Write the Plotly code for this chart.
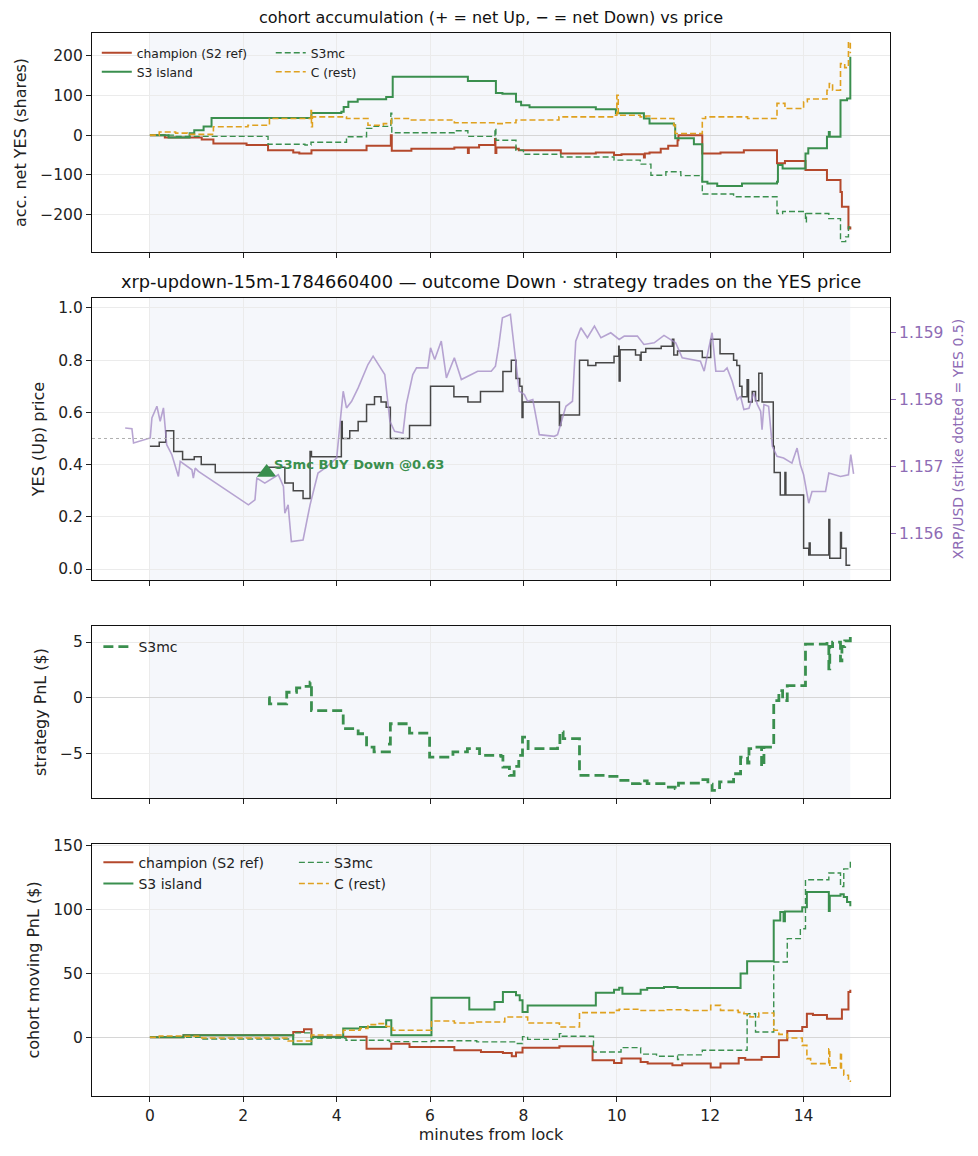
import plotly.graph_objects as go

# ---- panel 1: cohort accumulation (net YES shares) ----
t_champ_acc = [0, 0.32, 1.11, 1.36, 2.07, 2.53, 3.07, 3.2, 3.46, 4.64, 5.16, 5.18, 5.6, 6.52, 6.81, 6.83,
               7.05, 7.39, 7.40, 7.42, 7.84, 7.9, 8.8, 9.55, 9.94, 10.1, 10.58, 10.6, 10.7, 10.94, 11.1,
               11.3, 11.32, 11.83, 12.22, 12.72, 13.43, 13.6, 14.04, 14.5, 14.79, 14.82, 14.96, 15.0]
champ_acc = [0, -6, -11, -21, -25, -38, -44, -46, -38, -27, 0, -39, -34, -31, -45, -31,
             -25, -10, -45, -31, -34, -38, -46, -44, -50, -48, -56, -46, -44, -34, -27,
             -13, 0, -46, -44, -38, -71, -65, -88, -113, -143, -180, -235, -230]

t_s3i_acc = [0, 0.4, 0.85, 0.95, 1.15, 1.32, 3.46, 4.1, 4.15, 4.25, 4.45, 5.06, 5.2, 6.81, 7.41, 7.55,
             7.84, 7.95, 8.13, 9.55, 9.98, 10.58, 10.7, 11.22, 11.25, 11.65, 11.83, 11.94, 12.15, 12.68,
             13.43, 13.45, 13.55, 14.04, 14.1, 14.5, 14.54, 14.56, 14.79, 14.93, 15.0]
s3i_acc = [0, -6, 5, 12, 22, 43, 56, 59, 71, 84, 90, 96, 147, 136, 106, 104,
           84, 75, 70, 65, 55, 42, 29, 25, -8, -23, -117, -122, -128, -122,
           -117, -75, -84, -46, -33, -4, 8, -4, 88, 92, 197]

t_s3mc_acc = [0, 0.5, 2.53, 3.32, 3.45, 4.21, 4.64, 4.75, 5.16, 5.18, 6.52, 6.81, 7.39, 7.41, 7.84, 8.0,
              8.8, 9.94, 10.5, 10.73, 11.05, 11.37, 11.83, 12.5, 13.43, 13.55, 14.04, 14.06, 14.54,
              14.79, 14.9, 14.96, 15.0]
s3mc_acc = [0, -3, -23, -25, -18, -4, 17, 22, 55, 6, 11, -3, 17, -13, -38, -48,
            -55, -63, -73, -101, -92, -102, -148, -155, -197, -192, -218, -197, -210,
            -268, -256, -231, -231]

t_c_acc = [0, 0.2, 0.55, 0.8, 1.36, 2.1, 2.56, 3.45, 3.46, 3.48, 4.21, 4.67, 5.0, 5.17, 5.6, 6.52, 7.41,
           7.6, 7.84, 8.76, 9.94, 10.0, 10.03, 10.5, 10.62, 10.73, 11.22, 11.25, 11.83, 11.9, 12.8,
           13.43, 13.6, 14.0, 14.08, 14.5, 14.55, 14.62, 14.79, 14.88, 14.96, 15.0]
c_acc = [0, 8, 5, 2, 21, 25, 42, 62, 21, 46, 42, 25, 29, 42, 38, 31, 29,
         31, 38, 46, 50, 100, 50, 46, 48, 42, 25, 4, 42, 46, 42,
         80, 67, 84, 91, 113, 130, 113, 180, 170, 235, 206]

# ---- panel 2: YES price (step) and XRP/USD ----
t_yes = [0, 0.2, 0.34, 0.51, 0.70, 0.95, 1.10, 1.40, 2.5, 2.89, 3.07, 3.28, 3.43, 3.46, 4.10, 4.12,
         4.28, 4.46, 4.64, 4.81, 4.95, 5.06, 5.15, 5.56, 6.01, 6.51, 6.81, 7.08, 7.56, 7.74, 7.84,
         7.92, 7.97, 7.99, 8.77, 8.80, 9.2, 9.38, 9.55, 9.94, 10.04, 10.05, 10.07, 10.4, 10.5, 10.52,
         10.62, 10.95, 11.19, 11.22, 11.3, 11.83, 12.01, 12.21, 12.5, 12.57, 12.63, 12.68, 12.79,
         12.82, 12.9, 12.97, 13.04, 13.11, 13.35, 13.37, 13.5, 13.6, 13.62, 14.0, 14.11, 14.12,
         14.14, 14.54, 14.56, 14.79, 14.81, 14.91, 15.0]
yes_price = [0.47, 0.486, 0.53, 0.45, 0.42, 0.43, 0.40, 0.37, 0.39, 0.33, 0.30, 0.27, 0.45, 0.43, 0.565, 0.50,
             0.53, 0.565, 0.63, 0.66, 0.64, 0.62, 0.50, 0.55, 0.70, 0.66, 0.64, 0.68, 0.757, 0.80, 0.73,
             0.70, 0.58, 0.64, 0.55, 0.59, 0.80, 0.78, 0.79, 0.815, 0.853, 0.72, 0.84, 0.82, 0.80, 0.83,
             0.845, 0.853, 0.88, 0.82, 0.835, 0.81, 0.88, 0.825, 0.80, 0.78, 0.70, 0.66, 0.725,
             0.64, 0.68, 0.645, 0.75, 0.64, 0.47, 0.37, 0.284, 0.37, 0.284, 0.08, 0.054, 0.10,
             0.054, 0.19, 0.041, 0.14, 0.08, 0.015, 0.015]

t_xrp = [-0.53, -0.385, -0.35, 0.007, 0.043, 0.15, 0.22, 0.29, 0.36, 0.47, 0.61, 0.65, 0.90, 0.93, 0.97,
         1.04, 2.11, 2.25, 2.29, 2.46, 2.75, 2.86, 2.89, 2.96, 3.03, 3.28, 3.43, 3.60, 3.75, 4.0, 4.09,
         4.14, 4.21, 4.32, 4.46, 4.67, 4.78, 4.85, 5.03, 5.14, 5.24, 5.42, 5.49, 5.63, 5.71, 5.95, 6.01,
         6.10, 6.24, 6.35, 6.52, 6.67, 7.02, 7.31, 7.40, 7.47, 7.55, 7.72, 7.81, 7.91, 8.02, 8.09, 8.20,
         8.34, 8.66, 8.73, 8.91, 9.05, 9.12, 9.23, 9.37, 9.52, 9.66, 9.87, 10.05, 10.16, 10.44, 10.58,
         10.80, 11.01, 11.26, 11.40, 11.79, 11.87, 11.97, 12.04, 12.12, 12.29, 12.36, 12.47, 12.58,
         12.65, 12.72, 12.83, 12.93, 13.01, 13.08, 13.11, 13.15, 13.25, 13.33, 13.43, 13.57, 13.75,
         13.86, 13.93, 14.0, 14.11, 14.18, 14.47, 14.54, 14.79, 14.96, 15.01, 15.07]
xrp_usd = [1.157575, 1.157565, 1.15735, 1.157425, 1.157725, 1.1579, 1.157675, 1.157875, 1.157325, 1.157175,
           1.15685, 1.157075, 1.15695, 1.156825, 1.156975, 1.156925, 1.156425, 1.1565, 1.156825, 1.15675,
           1.156875, 1.1567, 1.1563, 1.156425, 1.155875, 1.1559, 1.156425, 1.1569, 1.156975, 1.157125,
           1.157775, 1.158125, 1.157875, 1.157975, 1.158175, 1.158525, 1.15865, 1.158575, 1.158375,
           1.157675, 1.157525, 1.1575, 1.157925, 1.158375, 1.158475, 1.158475, 1.158775, 1.1586,
           1.158875, 1.158325, 1.158625, 1.1583, 1.158425, 1.158425, 1.1585, 1.1588, 1.159225, 1.159275,
           1.158725, 1.158125, 1.158075, 1.157975, 1.158, 1.157475, 1.15745, 1.157475, 1.1579, 1.157975,
           1.158875, 1.159075, 1.158925, 1.1591, 1.158925, 1.159, 1.1589, 1.15895, 1.15895, 1.158825,
           1.15885, 1.15896, 1.15885, 1.158625, 1.158575, 1.158425, 1.158775, 1.159, 1.158425, 1.158425,
           1.158475, 1.158275, 1.158, 1.15805, 1.15785, 1.15787, 1.1581, 1.157925, 1.157825, 1.15755,
           1.157925, 1.1579, 1.1573, 1.15715, 1.157125, 1.15705, 1.157275, 1.157025, 1.156875, 1.15645,
           1.156625, 1.156625, 1.1569, 1.15685, 1.156875, 1.157175, 1.15689]

trade_t = [2.5]
trade_price = [0.37]
trade_label = ["S3mc BUY Down @0.63"]

# ---- panel 3: strategy PnL ----
t_strat = [2.54, 2.56, 2.93, 3.14, 3.3, 3.43, 3.46, 4.14, 4.46, 4.64, 4.8, 5.13, 5.15, 5.56, 5.99, 6.49,
           6.8, 7.06, 7.52, 7.56, 7.7, 7.8, 7.9, 7.98, 8.1, 8.73, 8.78, 8.85, 9.2, 9.8, 10.05, 10.3,
           10.5, 10.65, 11.01, 11.25, 11.32, 11.51, 11.8, 11.95, 12.04, 12.2, 12.5, 12.65, 12.8, 12.83,
           13.0, 13.1, 13.15, 13.36, 13.47, 13.55, 13.65, 14.04, 14.5, 14.54, 14.56, 14.62, 14.79,
           14.82, 14.88, 15.0]
strat_pnl = [0, -0.57, 0.48, 0.87, 1.0, 1.38, -1.17, -2.8, -3.26, -4.46, -4.9, -4.2, -2.36, -3.2, -5.36, -4.9,
             -4.6, -5.2, -5.3, -6.26, -7.0, -6.2, -5.2, -3.56, -4.6, -4.3, -3.1, -3.7, -7.0, -7.1, -7.46, -7.76,
             -7.5, -7.76, -8.06, -8.2, -7.7, -7.7, -7.4, -7.8, -8.36, -7.6, -6.86, -5.36, -5.9, -4.6,
             -4.46, -6.2, -4.46, -0.27, 0.63, -0.27, 1.08, 4.82, 5.0, 2.58, 4.6, 5.0, 3.3,
             4.6, 5.1, 5.57]

# ---- panel 4: cohort moving PnL ----
t_champ_pnl = [0, 0.72, 3.07, 3.3, 3.46, 4.64, 5.17, 5.56, 6.52, 7.09, 7.56, 7.75, 7.84, 7.98, 8.77, 9.48,
               9.94, 10.1, 10.51, 10.66, 11.19, 11.4, 12.01, 12.22, 12.61, 12.75, 13.1, 13.47, 13.65, 13.97,
               14.07, 14.2, 14.5, 14.82, 14.96, 15.0]
champ_pnl = [0, 1.6, 4.2, 6.3, 0.5, -8.9, -5, -7.6, -10.2, -11.5, -12.3, -14.9, -12, -8.1, -7, -18,
             -20.1, -16.7, -19.3, -20.6, -21.9, -20.6, -23.7, -20.6, -16.2, -17.5, -15.5, -2.3, 5, 8.1,
             18.5, 17.5, 14.6, 21.7, 35.5, 37.3]

t_s3i_pnl = [0, 0.72, 3.07, 3.46, 4.14, 4.5, 5.06, 5.17, 6.03, 6.84, 7.38, 7.56, 7.84, 7.92, 7.98, 8.09,
             9.55, 9.94, 10.05, 10.12, 10.51, 10.65, 11.01, 11.3, 12.65, 12.79, 13.36, 13.5, 13.57, 13.6,
             13.97, 14.07, 14.54, 14.56, 14.79, 14.86, 14.93, 15.0]
s3i_pnl = [0, 1.6, -5.5, 0, 6.8, 8.1, 13.3, 1.6, 31, 21.7, 27.6, 35.5, 32.9, 29, 19.8, 25,
           35, 37.3, 38.9, 34.2, 37.3, 38.6, 39.4, 38.6, 49.9, 59.5, 91.6, 98.1, 91, 98.5,
           102, 113.8, 99, 111, 112, 110, 106, 102.6]

t_s3mc_pnl = [0, 1.11, 3.07, 3.46, 4.2, 5.13, 6.03, 7.0, 7.84, 7.98, 8.09, 8.77, 8.8, 9.5, 10.09, 10.51,
              10.85, 11.3, 11.32, 11.83, 12.79, 12.97, 13.36, 13.65, 13.93, 14.04, 14.54, 14.79, 14.86, 15.0]
s3mc_pnl = [0, -1.3, 3.5, -0.5, -2.3, -3.4, -2.7, -3.6, -4.9, 0.5, -1.6, 2.9, 0.8, -11.5, -8.1, -13.2,
            -14.9, -17.5, -13.8, -10.2, 18.5, 4.2, 59, 77.3, 85.1, 123.5, 128.7, 118.2, 132, 140]

t_c_pnl = [0, 0.2, 0.72, 1.11, 2.96, 3.46, 4.14, 4.5, 4.67, 4.85, 5.06, 5.2, 6.03, 6.52, 7.0, 7.6, 8.09,
           8.77, 9.2, 9.94, 10.05, 10.5, 11.01, 11.5, 12.01, 12.22, 12.6, 12.72, 12.85, 13.04, 13.36,
           13.47, 13.65, 13.97, 14.07, 14.15, 14.54, 14.56, 14.79, 14.81, 14.86, 14.96, 15.0]
c_pnl = [0, 1, 0.8, -0.5, -2.9, 1.8, 5.5, 7, 9.9, 10.7, 8.5, 5.5, 12.8, 11.2, 12, 15.9, 11.2,
         8.1, 19.3, 21.1, 22, 21, 21.6, 21, 25, 21.1, 19.5, 18.5, 16, 19, 5.5,
         2.3, -0.5, -6.3, -16.7, -20.6, -9, -24, -12, -24, -29.8, -34.2, -35]

RED = "#b4492c"
GREEN = "#3a8f4e"
GOLD = "#dfa11f"
PURPLE = "#8e6bb5"
FONT = "DejaVu Sans"

fig = go.Figure()


def step(x, y, name, color, width, dash, xa, ya, legend, show=True):
    fig.add_trace(go.Scatter(
        x=x, y=y, name=name, mode="lines", line_shape="hv",
        line=dict(color=color, width=width, dash=dash),
        xaxis=xa, yaxis=ya, legend=legend, showlegend=show))


# panel 1
step(t_champ_acc, champ_acc, "champion (S2 ref)", RED, 2, "solid", "x", "y", "legend")
step(t_s3i_acc, s3i_acc, "S3 island", GREEN, 2, "solid", "x", "y", "legend")
step(t_s3mc_acc, s3mc_acc, "S3mc", GREEN, 1.4, "6px,3px", "x", "y", "legend2")
step(t_c_acc, c_acc, "C (rest)", GOLD, 1.6, "6px,3px", "x", "y", "legend2")

# panel 2
fig.add_trace(go.Scatter(
    x=t_xrp, y=xrp_usd, mode="lines", line=dict(color="rgba(160,135,195,0.75)", width=1.6),
    xaxis="x2", yaxis="y5", showlegend=False, name="XRP/USD"))
step(t_yes, yes_price, "YES price", "#474747", 1.5, "solid", "x2", "y2", "legend", show=False)
fig.add_trace(go.Scatter(
    x=trade_t, y=trade_price, mode="markers",
    marker=dict(symbol="triangle-up", size=17, color=GREEN),
    xaxis="x2", yaxis="y2", showlegend=False, name="trade"))

# panel 3
step(t_strat, strat_pnl, "S3mc", GREEN, 2.8, "10px,5px", "x3", "y3", "legend3")

# panel 4
step(t_champ_pnl, champ_pnl, "champion (S2 ref)", RED, 2, "solid", "x4", "y4", "legend4")
step(t_s3i_pnl, s3i_pnl, "S3 island", GREEN, 2, "solid", "x4", "y4", "legend4")
step(t_s3mc_pnl, s3mc_pnl, "S3mc", GREEN, 1.4, "6px,3px", "x4", "y4", "legend5")
step(t_c_pnl, c_pnl, "C (rest)", GOLD, 1.6, "6px,3px", "x4", "y4", "legend5")

# shaded lock window and strike line
for i in ["", "2", "3", "4"]:
    fig.add_shape(type="rect", xref="x" + i, yref="y" + i + " domain", x0=0, x1=15, y0=0, y1=1,
                  fillcolor="#f5f7fb", line_width=0, layer="below")
fig.add_shape(type="line", xref="x2 domain", yref="y2", x0=0, x1=1, y0=0.5, y1=0.5,
              line=dict(color="#b0b0b0", width=1, dash="dot"), layer="above")

tickfont = dict(family=FONT, size=15.5, color="#222")
xcommon = dict(range=[-1.24, 15.85], tickvals=list(range(0, 16, 2)), ticks="outside", ticklen=5,
               tickcolor="#222", showline=True, mirror=True, linecolor="#111", linewidth=1.2,
               showgrid=True, gridcolor="#ebebeb", zeroline=False, tickfont=tickfont)
ycommon = dict(ticks="outside", ticklen=5, tickcolor="#222", showline=True, mirror=True,
               linecolor="#111", linewidth=1.2, showgrid=True, gridcolor="#ebebeb",
               zeroline=True, zerolinecolor="#d6d6d6", zerolinewidth=1.2, tickfont=tickfont,
               title_font=dict(family=FONT, size=16, color="#222"), title_standoff=9)

legend_common = dict(bgcolor="rgba(0,0,0,0)", borderwidth=0, xanchor="left", yanchor="top",
                     orientation="v", tracegroupgap=0)

# the page body adds 8px on top/left, so margins are shifted to keep the axes in place
fig.update_layout(
    width=978, height=1156,
    margin=dict(l=82, r=96, t=25, b=68),
    paper_bgcolor="white", plot_bgcolor="white",
    font=dict(family=FONT, size=14, color="#222"),
    xaxis=dict(xcommon, domain=[0, 1], anchor="y", matches="x4", showticklabels=False),
    xaxis2=dict(xcommon, domain=[0, 1], anchor="y2", matches="x4", showticklabels=False),
    xaxis3=dict(xcommon, domain=[0, 1], anchor="y3", matches="x4", showticklabels=False),
    xaxis4=dict(xcommon, domain=[0, 1], anchor="y4",
                title=dict(text="minutes from lock", font=dict(family=FONT, size=16, color="#222"),
                           standoff=4)),
    yaxis=dict(ycommon, domain=[0.794, 1.0], anchor="x", range=[-294, 257],
               tickvals=[-200, -100, 0, 100, 200], title_text="acc. net YES (shares)"),
    yaxis2=dict(ycommon, domain=[0.4854, 0.7507], anchor="x2", range=[-0.042, 1.038],
                tickvals=[0, 0.2, 0.4, 0.6, 0.8, 1.0], tickformat=".1f", zeroline=False,
                title_text="YES (Up) price"),
    yaxis5=dict(overlaying="y2", side="right", anchor="x2", range=[1.1553, 1.15952],
                tickvals=[1.156, 1.157, 1.158, 1.159], tickformat=".3f", showgrid=False,
                zeroline=False, ticks="outside", ticklen=5, tickcolor=PURPLE,
                tickfont=dict(family=FONT, size=15.5, color=PURPLE),
                title=dict(text="XRP/USD (strike dotted = YES 0.5)",
                           font=dict(family=FONT, size=14, color=PURPLE), standoff=10)),
    yaxis3=dict(ycommon, domain=[0.2803, 0.4421], anchor="x3", range=[-9.05, 6.44],
                tickvals=[-5, 0, 5], title_text="strategy PnL ($)"),
    yaxis4=dict(ycommon, domain=[0, 0.2371], anchor="x4", range=[-46, 151.5],
                tickvals=[0, 50, 100, 150], title_text="cohort moving PnL ($)"),
    legend=dict(legend_common, x=0.006, y=0.995, font=dict(family=FONT, size=12.3, color="#222")),
    legend2=dict(legend_common, x=0.224, y=0.995, font=dict(family=FONT, size=12.3, color="#222")),
    legend3=dict(legend_common, x=0.008, y=0.4375, font=dict(family=FONT, size=14, color="#222")),
    legend4=dict(legend_common, x=0.008, y=0.2345, font=dict(family=FONT, size=14, color="#222")),
    legend5=dict(legend_common, x=0.253, y=0.2345, font=dict(family=FONT, size=14, color="#222")),
)

# panel titles
fig.add_annotation(text="cohort accumulation (+ = net Up, \u2212 = net Down) vs price",
                   xref="paper", yref="paper", x=0.5, y=1.015, showarrow=False,
                   font=dict(family=FONT, size=16, color="#111"), yanchor="middle")
fig.add_annotation(text="xrp-updown-15m-1784660400 \u2014 outcome Down \u00b7 strategy trades on the YES price",
                   xref="paper", yref="paper", x=0.5, y=0.7658, showarrow=False,
                   font=dict(family=FONT, size=17.8, color="#111"), yanchor="middle")

# trade label
for tx, ty, lab in zip(trade_t, trade_price, trade_label):
    fig.add_annotation(text="<b>" + lab + "</b>", x=tx, y=ty, xref="x2", yref="y2", showarrow=False,
                       xanchor="left", yanchor="middle", xshift=5, yshift=8,
                       font=dict(family=FONT, size=13.1, color=GREEN))

fig.write_html("out.html")
